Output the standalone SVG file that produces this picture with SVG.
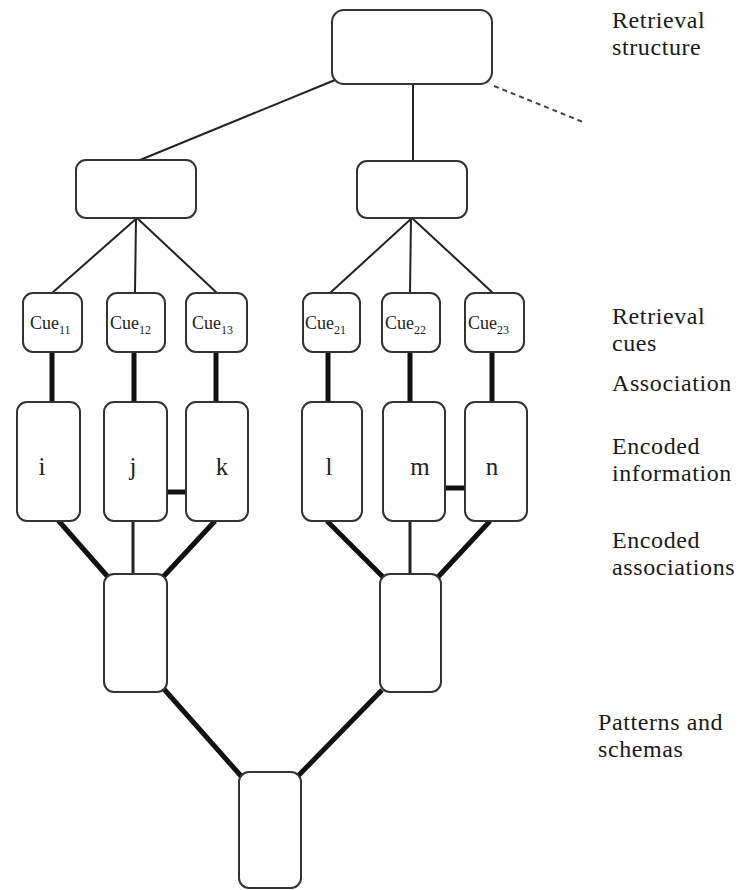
<svg xmlns="http://www.w3.org/2000/svg" width="738" height="890" viewBox="0 0 738 890">
<style>
.box{fill:#fff;stroke:#333;stroke-width:2}
.thin{stroke:#222;stroke-width:2;fill:none}
.thick{stroke:#111;stroke-width:5;fill:none}
.dash{stroke:#444;stroke-width:2;stroke-dasharray:5 4;fill:none}
.lbl{font-size:24px;letter-spacing:0.6px;fill:#1a1a1a}
.cue{font-size:18px;fill:#222}
.sub{font-size:12px}
.let{font-size:25px;fill:#222}
</style>
<g id="connectors">
<line class="thin" x1="335" y1="80" x2="140" y2="160"/>
<line class="thin" x1="413" y1="84" x2="413" y2="161"/>
<line class="dash" x1="494" y1="86" x2="583" y2="122"/>
<line class="thin" x1="137" y1="218" x2="52" y2="293"/>
<line class="thin" x1="136" y1="218" x2="135" y2="293"/>
<line class="thin" x1="137" y1="218" x2="217" y2="293"/>
<line class="thin" x1="412" y1="218" x2="330" y2="293"/>
<line class="thin" x1="411" y1="218" x2="410" y2="293"/>
<line class="thin" x1="412" y1="218" x2="493" y2="293"/>
<line class="thick" x1="52" y1="352" x2="52" y2="402"/>
<line class="thick" x1="134" y1="352" x2="134" y2="402"/>
<line class="thick" x1="216" y1="352" x2="216" y2="402"/>
<line class="thick" x1="328" y1="352" x2="328" y2="402"/>
<line class="thick" x1="410" y1="352" x2="410" y2="402"/>
<line class="thick" x1="492" y1="352" x2="492" y2="402"/>
<line class="thick" x1="167" y1="492" x2="186" y2="492"/>
<line class="thick" x1="445" y1="488" x2="465" y2="488"/>
<line class="thick" x1="57" y1="519" x2="108" y2="577"/>
<line class="thin" x1="133" y1="521" x2="133" y2="574" style="stroke-width:3"/>
<line class="thick" x1="215" y1="521" x2="163" y2="577"/>
<line class="thick" x1="327" y1="521" x2="383" y2="577"/>
<line class="thin" x1="410" y1="521" x2="410" y2="574" style="stroke-width:3"/>
<line class="thick" x1="490" y1="521" x2="438" y2="577"/>
<line class="thick" x1="163" y1="688" x2="241" y2="776"/>
<line class="thick" x1="382" y1="690" x2="298" y2="776"/>
</g>
<g font-family="'Liberation Serif', 'DejaVu Serif', serif">
<g id="top"><rect class="box" x="332" y="10" width="160" height="74" rx="12"/></g>
<g id="midL"><rect class="box" x="76" y="160" width="120" height="58" rx="10"/></g>
<g id="midR"><rect class="box" x="357" y="161" width="110" height="57" rx="10"/></g>
<g id="cue11"><rect class="box" x="23" y="293" width="59" height="59" rx="10"/><text class="cue" x="30" y="329">Cue<tspan class="sub" dy="5">11</tspan></text></g>
<g id="cue12"><rect class="box" x="107" y="293" width="58" height="59" rx="10"/><text class="cue" x="110" y="329">Cue<tspan class="sub" dy="5">12</tspan></text></g>
<g id="cue13"><rect class="box" x="186" y="293" width="61" height="59" rx="10"/><text class="cue" x="192" y="329">Cue<tspan class="sub" dy="5">13</tspan></text></g>
<g id="cue21"><rect class="box" x="303" y="293" width="57" height="59" rx="10"/><text class="cue" x="305" y="329">Cue<tspan class="sub" dy="5">21</tspan></text></g>
<g id="cue22"><rect class="box" x="382" y="293" width="58" height="59" rx="10"/><text class="cue" x="385" y="329">Cue<tspan class="sub" dy="5">22</tspan></text></g>
<g id="cue23"><rect class="box" x="465" y="293" width="59" height="59" rx="10"/><text class="cue" x="468" y="329">Cue<tspan class="sub" dy="5">23</tspan></text></g>
<g id="info_i"><rect class="box" x="17" y="402" width="63" height="119" rx="10"/><text class="let" x="42" y="475" text-anchor="middle">i</text></g>
<g id="info_j"><rect class="box" x="104" y="402" width="63" height="119" rx="10"/><text class="let" x="133" y="475" text-anchor="middle">j</text></g>
<g id="info_k"><rect class="box" x="186" y="402" width="62" height="119" rx="10"/><text class="let" x="222" y="475" text-anchor="middle">k</text></g>
<g id="info_l"><rect class="box" x="302" y="402" width="60" height="119" rx="10"/><text class="let" x="329" y="475" text-anchor="middle">l</text></g>
<g id="info_m"><rect class="box" x="383" y="402" width="62" height="119" rx="10"/><text class="let" x="420" y="475" text-anchor="middle">m</text></g>
<g id="info_n"><rect class="box" x="465" y="402" width="62" height="119" rx="10"/><text class="let" x="492" y="475" text-anchor="middle">n</text></g>
<g id="patL"><rect class="box" x="104" y="574" width="63" height="118" rx="10"/></g>
<g id="patR"><rect class="box" x="380" y="574" width="61" height="118" rx="10"/></g>
<g id="patB"><rect class="box" x="239" y="772" width="62" height="116" rx="10"/></g>
<g id="labels">
<text class="lbl" x="612" y="28">Retrieval</text>
<text class="lbl" x="612" y="55">structure</text>
<text class="lbl" x="612" y="324">Retrieval</text>
<text class="lbl" x="612" y="351">cues</text>
<text class="lbl" x="612" y="391">Association</text>
<text class="lbl" x="612" y="454">Encoded</text>
<text class="lbl" x="612" y="481">information</text>
<text class="lbl" x="612" y="548">Encoded</text>
<text class="lbl" x="612" y="575">associations</text>
<text class="lbl" x="598" y="730">Patterns and</text>
<text class="lbl" x="598" y="757">schemas</text>
</g>
</g>
</svg>
